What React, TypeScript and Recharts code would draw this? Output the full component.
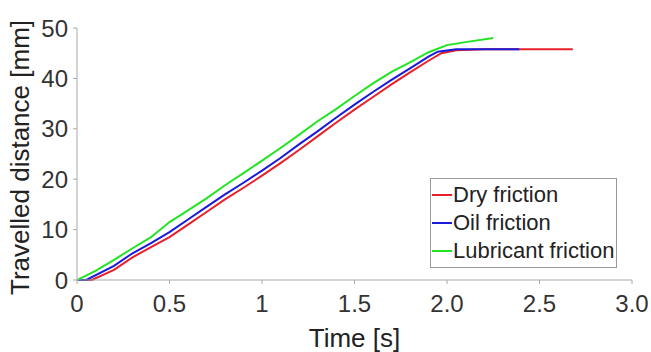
import React from "react";
import { LineChart, Line, XAxis, YAxis, CartesianGrid } from "recharts";

const xTicks = [0, 0.5, 1, 1.5, 2, 2.5, 3];
const xTickLabels = ["0", "0.5", "1", "1.5", "2.0", "2.5", "3.0"];
const yTicks = [0, 10, 20, 30, 40, 50];

const dryT = [0, 0.08, 0.2, 0.3, 0.4, 0.5, 0.6, 0.7, 0.8, 0.9, 1.0, 1.1, 1.2, 1.3, 1.4, 1.5, 1.6, 1.7, 1.8, 1.9, 1.97, 2.05, 2.2, 2.68];
const dryD = [0, 0, 2, 4.5, 6.5, 8.5, 11, 13.5, 16, 18.3, 20.7, 23.2, 25.8, 28.5, 31.2, 33.8, 36.3, 38.8, 41.2, 43.5, 45, 45.6, 45.8, 45.8];

const oilT = [0, 0.05, 0.2, 0.3, 0.4, 0.5, 0.6, 0.7, 0.8, 0.9, 1.0, 1.1, 1.2, 1.3, 1.4, 1.5, 1.6, 1.7, 1.8, 1.9, 1.95, 2.05, 2.39];
const oilD = [0, 0, 2.8, 5.3, 7.3, 9.5, 12, 14.5, 17, 19.3, 21.7, 24.2, 26.9, 29.5, 32.2, 34.8, 37.3, 39.7, 42, 44.3, 45.3, 45.8, 45.8];

const lubT = [0, 0.1, 0.2, 0.3, 0.4, 0.5, 0.6, 0.7, 0.8, 0.9, 1.0, 1.1, 1.2, 1.3, 1.4, 1.5, 1.6, 1.7, 1.8, 1.9, 2.0, 2.1, 2.25];
const lubD = [0, 1.8, 4, 6.3, 8.5, 11.5, 13.8, 16.2, 18.8, 21.2, 23.7, 26.2, 28.8, 31.5, 33.9, 36.5, 39, 41.3, 43.2, 45.2, 46.6, 47.2, 48];

const seriesNames = ["Dry friction", "Oil friction", "Lubricant friction"];
const seriesColors = ["#e8202a", "#1a1adc", "#22e422"];

const toPts = (t: number[], d: number[]) => t.map((x, i) => ({ t: x, d: d[i] }));
const series = [toPts(dryT, dryD), toPts(oilT, oilD), toPts(lubT, lubD)];

const FONT = "'Liberation Sans', Arial, sans-serif";

const LegendBox = () => (
  <div
    style={{
      position: "absolute",
      left: 430,
      top: 178,
      width: 187,
      height: 90,
      background: "#fff",
      border: "1px solid #999",
      boxSizing: "border-box",
      fontFamily: FONT,
      fontSize: 22,
      color: "#222",
      paddingTop: 2,
      whiteSpace: "nowrap",
    }}
  >
    {seriesNames.map((n, i) => (
      <div key={n} style={{ display: "flex", alignItems: "center", height: 28 }}>
        <div style={{ width: 20, height: 2, background: seriesColors[i], marginLeft: 1, marginRight: 1 }} />
        <span>{n}</span>
      </div>
    ))}
  </div>
);

export default function App() {
  return (
    <div style={{ position: "absolute", left: 0, top: 0, width: 651, height: 352, background: "#fff", overflow: "hidden" }}>
      <LineChart width={651} height={352} margin={{ top: 28, right: 19, bottom: 0, left: 0 }}>
        <CartesianGrid stroke="#e8e8e8" horizontalValues={yTicks} verticalValues={xTicks} />
        <XAxis
          type="number"
          dataKey="t"
          xAxisId="b"
          domain={[0, 3]}
          ticks={xTicks}
          tickFormatter={(v: number) => xTickLabels[xTicks.indexOf(v)] ?? String(v)}
          height={72}
          stroke="#a8a8a8"
          tickSize={4}
          tick={{ fill: "#333", fontSize: 24, fontFamily: FONT, dy: 9 }}
          label={{ value: "Time [s]", position: "insideBottom", offset: 5, fill: "#222", fontSize: 26, fontFamily: FONT }}
          allowDataOverflow
        />
        <XAxis type="number" xAxisId="top" orientation="top" domain={[0, 3]} ticks={xTicks} tick={false} height={0} stroke="#a8a8a8" tickSize={0} />
        <YAxis
          type="number"
          yAxisId="l"
          domain={[0, 50]}
          ticks={yTicks}
          width={77}
          stroke="#a8a8a8"
          tickSize={4}
          tick={{ fill: "#333", fontSize: 24, fontFamily: FONT, dx: -3 }}
          label={{ value: "Travelled distance [mm]", angle: -90, position: "insideLeft", offset: 20, fill: "#222", fontSize: 26, fontFamily: FONT, dy: 141 }}
        />
        <YAxis type="number" yAxisId="r" orientation="right" domain={[0, 50]} ticks={yTicks} tick={false} width={0} stroke="#a8a8a8" tickSize={0} />
        {series.map((s, i) => (
          <Line
            key={seriesNames[i]}
            data={s}
            dataKey="d"
            xAxisId="b"
            yAxisId="l"
            name={seriesNames[i]}
            stroke={seriesColors[i]}
            strokeWidth={2}
            dot={false}
            type="linear"
            isAnimationActive={false}
          />
        ))}
      </LineChart>
      <LegendBox />
    </div>
  );
}
